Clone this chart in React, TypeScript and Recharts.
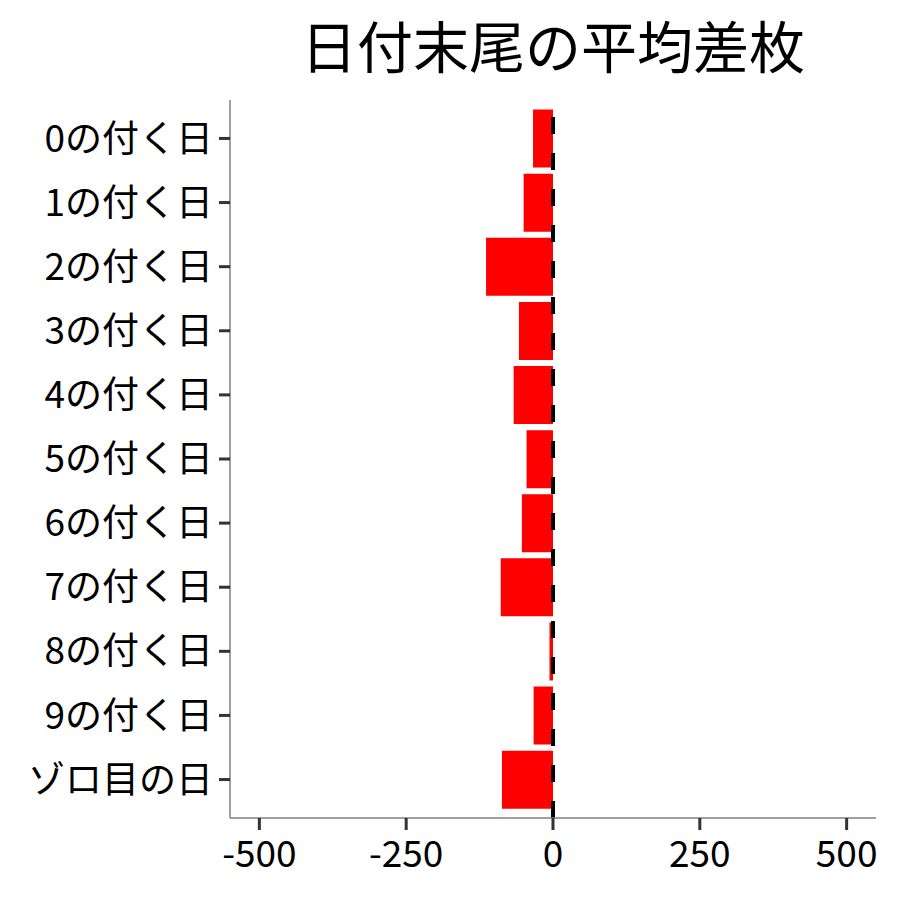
import React from 'react';
import { BarChart, Bar, XAxis, YAxis, ReferenceLine } from 'recharts';

const categories = ['0の付く日', '1の付く日', '2の付く日', '3の付く日', '4の付く日', '5の付く日', '6の付く日', '7の付く日', '8の付く日', '9の付く日', 'ゾロ目の日'];
const values = [-34, -50, -114, -58, -67, -45, -53, -89, -6, -33, -87];
const xTicks = [-500, -250, 0, 250, 500];
const title = '日付末尾の平均差枚';

const data = categories.map((name, i) => ({ name, value: values[i] }));
const FONT = "'Noto Sans CJK JP', 'Noto Sans', sans-serif";

export default function App() {
  return (
    <div style={{ position: 'absolute', left: 0, top: 0, width: 900, height: 900, background: '#fff', fontFamily: FONT }}>
      <div style={{ position: 'absolute', left: 206, width: 694, top: 14, fontSize: 56, lineHeight: '60px', textAlign: 'center', whiteSpace: 'nowrap', color: '#000', fontFamily: FONT }}>
        {title}
      </div>
      <BarChart
        width={900}
        height={900}
        data={data}
        layout="vertical"
        margin={{ top: 100, right: 24, left: 0, bottom: 0 }}
        barCategoryGap="5%"
      >
        <XAxis
          type="number"
          domain={[-550, 550]}
          ticks={xTicks}
          allowDataOverflow
          height={82}
          tickSize={12}
          tickMargin={11}
          axisLine={{ stroke: '#808080', strokeWidth: 1.5 }}
          tickLine={{ stroke: '#333', strokeWidth: 3 }}
          tick={{ fill: '#000', fontSize: 37, fontFamily: FONT }}
        />
        <YAxis
          type="category"
          dataKey="name"
          width={230}
          padding={{ top: 6.4, bottom: 6.4 }}
          tickSize={11}
          tickMargin={6}
          axisLine={{ stroke: '#808080', strokeWidth: 1.5 }}
          tickLine={{ stroke: '#333', strokeWidth: 3 }}
          tick={{ fill: '#000', fontSize: 37, fontFamily: FONT }}
          interval={0}
        />
        <Bar dataKey="value" fill="#FF0000" isAnimationActive={false} />
        <ReferenceLine x={0} stroke="#000" strokeWidth={4} strokeDasharray="17 19" />
      </BarChart>
    </div>
  );
}
